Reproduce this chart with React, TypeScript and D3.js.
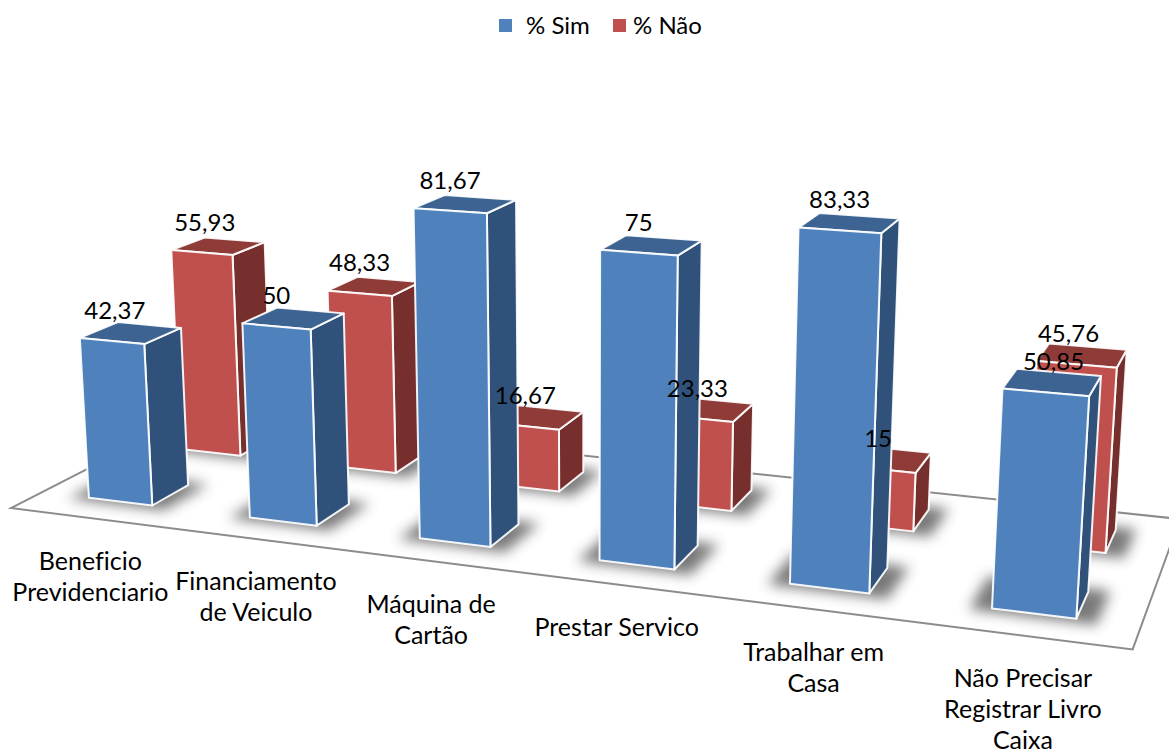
/**
 * 3D column chart: % Sim / % Não per category
 * Bars are boxes in chart space, pushed through a fixed perspective camera
 */

import { useEffect, useRef } from 'react';
import * as d3 from 'd3';

const categories = [
  ['Beneficio', 'Previdenciario'],
  ['Financiamento', 'de Veiculo'],
  ['Máquina de', 'Cartão'],
  ['Prestar Servico'],
  ['Trabalhar em', 'Casa'],
  ['Não Precisar', 'Registrar Livro', 'Caixa'],
];
const categoryKeys = categories.map(c => c.join(' '));
const seriesNames = ['% Sim', '% Não'];
const simValues = [42.37, 50, 81.67, 75, 83.33, 50.85];
const naoValues = [55.93, 48.33, 16.67, 23.33, 15, 45.76];

const width = 1169;
const height = 754;
const font = 'Lato, sans-serif';

// Camera matrix (chart space -> screen), third row divides
const CAM = [
  [154.3048, 104.5073, -24.84133, 88.91006],
  [6.000919, -16.56698, -391.6681, 497.7378],
  [-0.02652278, 0.07191392, -0.04264381, 1],
];

function project(u: number, v: number, z: number): [number, number] {
  const [a, b, w] = CAM.map(r => r[0] * u + r[1] * v + r[2] * z + r[3]);
  return [a / w, b / w];
}

const COLORS = [
  { front: '#4f81bd', side: '#30527a', top: '#3c6391' },
  { front: '#c0504d', side: '#772f2d', top: '#8f3c39' },
];

export default function App() {
  const svgRef = useRef<SVGSVGElement>(null);

  useEffect(() => {
    if (!svgRef.current) return;
    d3.select(svgRef.current).selectAll('*').remove();

    const svg = d3.select(svgRef.current);
    const xBand = d3.scaleBand<string>().domain(categoryKeys).range([-0.3, 5.7]).paddingInner(0.6).paddingOuter(0.3);
    const yBand = d3.scaleBand<string>().domain(seriesNames).range([-0.305, 1.695]).paddingInner(0.61).paddingOuter(0.305);
    const zScale = d3.scaleLinear().domain([0, 100]).range([0, 1]);
    const bw = xBand.bandwidth();
    const bd = yBand.bandwidth();
    const line = d3.line<[number, number]>();

    const blur = svg.append('defs').append('filter')
      .attr('id', 'soft').attr('x', '-50%').attr('y', '-50%').attr('width', '200%').attr('height', '200%');
    blur.append('feGaussianBlur').attr('stdDeviation', 6.5);

    // Floor outline
    const [u0, u1] = xBand.range();
    const [v0, v1] = yBand.range();
    svg.append('path')
      .attr('d', line([project(u0, v0, 0), project(u1, v0, 0), project(u1, v1, 0), project(u0, v1, 0)])! + 'Z')
      .attr('fill', 'none')
      .attr('stroke', '#8c8c8c')
      .attr('stroke-width', 2);

    const rows = [
      { name: seriesNames[1], values: naoValues, color: COLORS[1] },
      { name: seriesNames[0], values: simValues, color: COLORS[0] },
    ];

    // Back series first, then the near one
    rows.forEach(row => {
      const v = yBand(row.name)!;
      row.values.forEach((value, i) => {
        const u = xBand(categoryKeys[i])!;
        const z = zScale(value);
        const g = svg.append('g');

        // Soft contact shadow around the footprint
        const m = 0.1;
        g.append('path')
          .attr('d', line([
            project(u - m, v - 0.05, 0),
            project(u + bw + m, v - 0.05, 0),
            project(u + bw + m, v + bd + 0.05, 0),
            project(u - m, v + bd + 0.05, 0),
          ])! + 'Z')
          .attr('fill', '#404040')
          .attr('opacity', 0.7)
          .attr('filter', 'url(#soft)');

        const faces: [string, [number, number][]][] = [
          ['side', [project(u + bw, v, 0), project(u + bw, v + bd, 0), project(u + bw, v + bd, z), project(u + bw, v, z)]],
          ['top', [project(u, v, z), project(u + bw, v, z), project(u + bw, v + bd, z), project(u, v + bd, z)]],
          ['front', [project(u, v, 0), project(u + bw, v, 0), project(u + bw, v, z), project(u, v, z)]],
        ];
        faces.forEach(([key, pts]) => {
          g.append('path')
            .attr('d', line(pts)! + 'Z')
            .attr('fill', (row.color as any)[key])
            .attr('stroke', '#fff')
            .attr('stroke-opacity', 0.92)
            .attr('stroke-width', 2)
            .attr('stroke-linejoin', 'round');
        });
      });
    });

    // Data labels sit above everything; the two that overlap were moved by hand
    const nudge: Record<string, number> = { '50,85': 8, '45,76': -8, '42,37': 3, '55,93': 3 };
    rows.forEach(row => {
      const v = yBand(row.name)!;
      row.values.forEach((value, i) => {
        const label = String(value).replace('.', ',');
        const [x, y] = project(xBand(categoryKeys[i])! + bw / 2, v, zScale(value));
        svg.append('text')
          .attr('x', x + (nudge[label] ?? 0))
          .attr('y', y - 22)
          .attr('text-anchor', 'middle')
          .style('font-family', font)
          .style('font-size', '24px')
          .style('fill', '#000')
          .text(label);
      });
    });

    // Category labels hang from the front floor edge
    categories.forEach((lines, i) => {
      const [x, y] = project(xBand(categoryKeys[i])! + bw / 2, v0, 0);
      const t = svg.append('text')
        .attr('text-anchor', 'middle')
        .style('font-family', font)
        .style('font-size', '25px')
        .style('font-variant-ligatures', 'none')
        .style('fill', '#000');
      lines.forEach((l, j) => {
        t.append('tspan').attr('x', x).attr('y', y + 51.5 + j * 31).text(l);
      });
    });

    // Legend
    const legendX = [499, 613];
    seriesNames.forEach((name, i) => {
      svg.append('rect')
        .attr('x', legendX[i])
        .attr('y', 19)
        .attr('width', 13)
        .attr('height', 13)
        .attr('fill', COLORS[i].front);
      svg.append('text')
        .attr('x', legendX[i] + (i === 0 ? 27 : 20))
        .attr('y', 34)
        .style('font-family', font)
        .style('font-size', '24px')
        .style('fill', '#000')
        .text(name);
    });
  }, []);

  return (
    <svg
      ref={svgRef}
      width={width}
      height={height}
      viewBox={`0 0 ${width} ${height}`}
      style={{ position: 'absolute', left: 0, top: 0, background: '#fff' }}
    />
  );
}
